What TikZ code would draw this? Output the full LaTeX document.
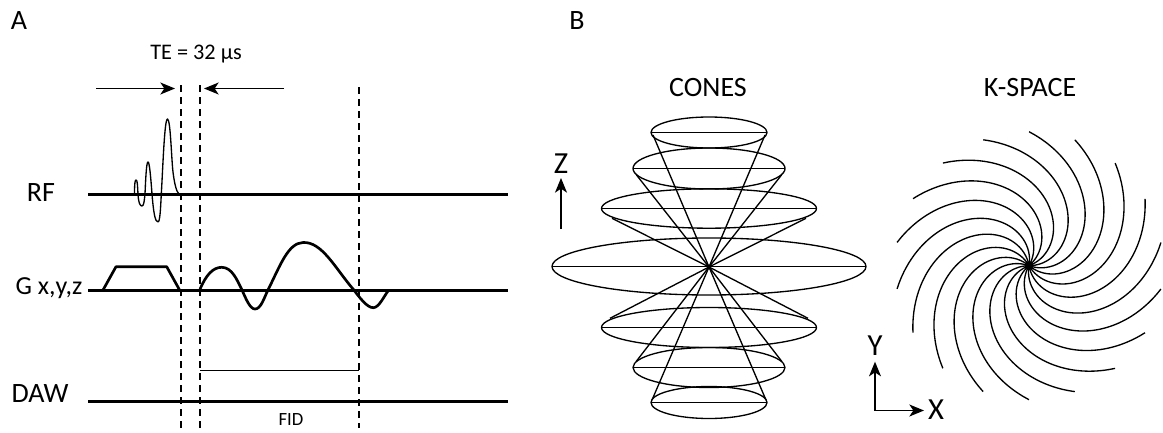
\documentclass[tikz,border=0pt]{standalone}
\usepackage{fontspec}
\setmainfont{Carlito}
\usetikzlibrary{arrows.meta}
\tikzset{
  axisline/.style={line width=2.1pt},
  wave/.style={line width=2pt,line join=round},
  thinline/.style={line width=1pt,line join=round},
  dashline/.style={line width=1pt,dash pattern=on 5pt off 4pt},
  arrowline/.style={line width=1pt,-{Stealth[length=11pt,width=9pt,inset=3pt]}},
  biglabel/.style={font=\fontsize{21}{24}\selectfont,inner sep=0pt},
  axislabel/.style={font=\fontsize{23}{26}\selectfont,inner sep=0pt},
  midlabel/.style={font=\fontsize{16.7}{20}\selectfont,inner sep=0pt},
  smalllabel/.style={font=\fontsize{14}{16}\selectfont,inner sep=0pt},
}
\begin{document}
\begin{tikzpicture}[x=0.75pt,y=-0.75pt]
\path[use as bounding box,fill=white] (0,0) rectangle (1163,432);
% Panel labels
\node[biglabel] (pa) at (19,21) {A};
\node[biglabel] (pb) at (577,21) {B};
\node[midlabel] (te) at (196,54) {TE = 32 µs};
\node[biglabel] (rf) at (41,193) {RF};
\node[font=\fontsize{19.5}{22}\selectfont,inner sep=0pt] (gxyz) at (49,288) {G x,y,z};
\node[biglabel] (daw) at (40,394) {DAW};
\node[smalllabel] (fid) at (291,420) {FID};
\node[biglabel] (cones) at (708,88) {CONES};
\node[biglabel] (kspace) at (1030,88) {K-SPACE};
\node[axislabel] (zl) at (561,164) {Z};
\node[axislabel] (yl) at (875,346) {Y};
\node[axislabel] (xl) at (936,410) {X};
% Sequence lines
\coordinate (rfa) at (88,194.5); \coordinate (rfb) at (508,194.5);
\coordinate (ga) at (88,290.5); \coordinate (gb) at (508,290.5);
\coordinate (da) at (88,401.5); \coordinate (db) at (508,401.5);
\draw[axisline] (rfa) -- (rfb);
\draw[axisline] (ga) -- (gb);
\draw[axisline] (da) -- (db);
% Dashed markers
\coordinate (d1a) at (181,85); \coordinate (d1b) at (181,428);
\coordinate (d2a) at (200,85); \coordinate (d2b) at (200,428);
\coordinate (d3a) at (359,87); \coordinate (d3b) at (359,428);
\draw[dashline] (d1a) -- (d1b);
\draw[dashline] (d2a) -- (d2b);
\draw[dashline] (d3a) -- (d3b);
% TE arrows
\coordinate (t1a) at (96,88.5); \coordinate (t1b) at (175,88.5);
\coordinate (t2a) at (284,88.5); \coordinate (t2b) at (204,88.5);
\draw[arrowline] (t1a) -- (t1b);
\draw[arrowline] (t2a) -- (t2b);
% RF pulse
\draw[thinline] (134.5,194) .. controls (134.5,184) and (135,180) .. (136,180)
  .. controls (137.5,180) and (137.5,186) .. (138,194)
  .. controls (138.5,203) and (140,206) .. (142,206)
  .. controls (144,206) and (144.3,200) .. (145,194)
  .. controls (145.8,176) and (146.5,162) .. (148,162)
  .. controls (149.5,162) and (150.8,178) .. (152,194)
  .. controls (153.5,212) and (155,222) .. (158,222)
  .. controls (160,222) and (160.6,208) .. (161.3,194)
  .. controls (163,165) and (164.5,119) .. (167.5,119)
  .. controls (170.5,119) and (171.5,160) .. (173,172)
  .. controls (174.5,184) and (176.5,192) .. (179,194);
% Gradient
\draw[wave] (103.3,289.5) -- (116,266.7) -- (166.7,266.7) -- (179.3,289.5);
\draw[wave] (200,289.3) .. controls (206,275) and (213,267.3) .. (221.7,267.3)
  .. controls (232,267.3) and (237,280) .. (241.7,289.3)
  .. controls (246,299) and (250,309) .. (255,309)
  .. controls (261,309) and (264,298) .. (268.3,289.3)
  .. controls (280,266) and (288,243) .. (303,242.5)
  .. controls (322,241.5) and (335,268) .. (353.3,289.3)
  .. controls (360,298) and (367,307.7) .. (373.3,307.7)
  .. controls (379,307.7) and (384,296) .. (388.3,290.7);
% FID bar
\coordinate (fa) at (200,370.5); \coordinate (fb) at (359,370.5);
\draw[thinline] (fa) -- (fb);
% Cones
\coordinate (apex) at (709,267);
\foreach \cy/\rx/\ry/\tx/\ty in {132.5/58/15.5/56/135, 168.5/76/20.5/72.5/175, 208.5/107.5/19.7/97/218.3, 327.5/107.5/20/99/318.3, 367.5/76/20/73/361.7, 402.5/58/16/57/400}{
  \draw[thinline] (709,\cy) ellipse [x radius=\rx,y radius=\ry];
  \draw[thinline] (709-\rx,\cy) -- (709+\rx,\cy);
  \draw[thinline] (apex) -- (709-\tx,\ty);
  \draw[thinline] (apex) -- (709+\tx,\ty);
}
\draw[thinline] (709,266.5) ellipse [x radius=157,y radius=28.5];
\draw[thinline] (552,266.5) -- (866,266.5);
% Z axis
\coordinate (za) at (561,229); \coordinate (zb) at (561,178);
\draw[arrowline] (za) -- (zb);
% Spiral
\foreach \a in {0,20,...,340}{
  \draw[thinline] plot[domain=0:1,samples=40,smooth,variable=\t]
    ({1029+134*\t*cos(\a+10-110*(1-\t))},{265.7-134*\t*sin(\a+10-110*(1-\t))});
}
\fill (1029,265.7) circle [radius=4.5];
% XY axes
\coordinate (o) at (875,410.5); \coordinate (oy) at (875,361.7); \coordinate (ox) at (924,410.5);
\draw[arrowline] (o) -- (oy);
\draw[arrowline] (o) -- (ox);
\end{tikzpicture}
\end{document}
